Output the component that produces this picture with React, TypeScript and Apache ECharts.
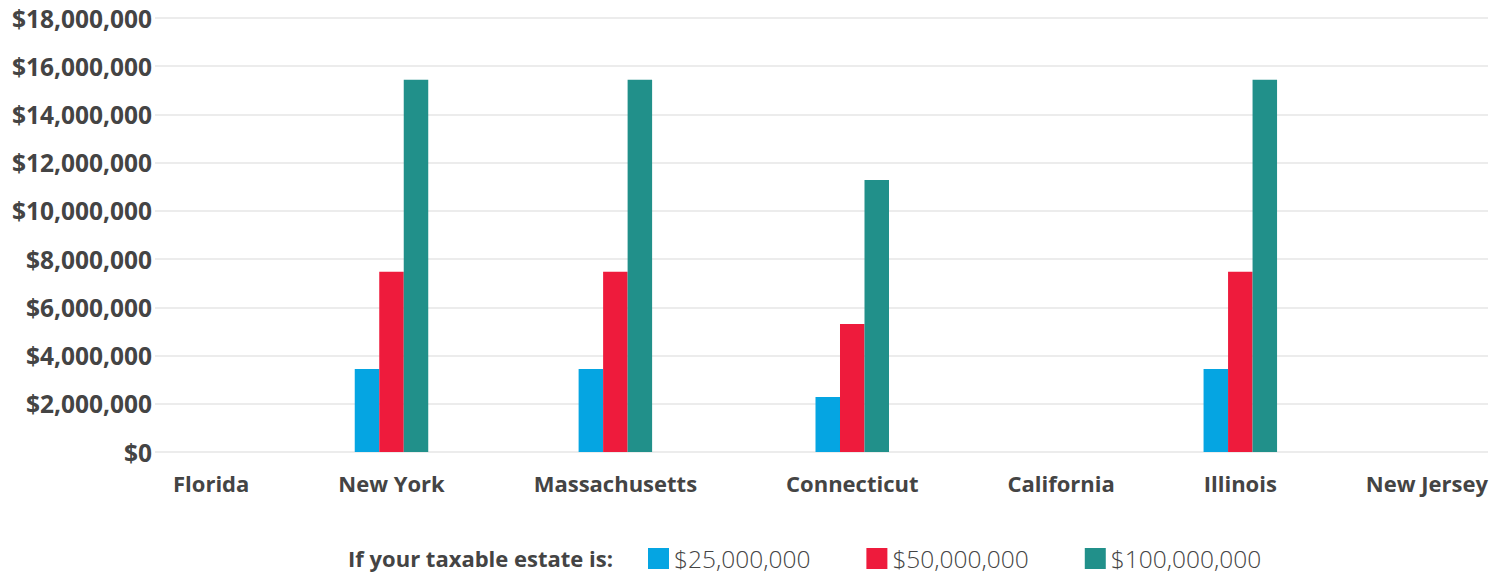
import React, { useEffect, useRef } from "react";
import * as echarts from "echarts";

const states = ["Florida", "New York", "Massachusetts", "Connecticut", "California", "Illinois", "New Jersey"];
const seriesNames = ["$25,000,000", "$50,000,000", "$100,000,000"];
const tax25M = [0, 3440000, 3440000, 2280000, 0, 3440000, 0];
const tax50M = [0, 7480000, 7480000, 5310000, 0, 7480000, 0];
const tax100M = [0, 15440000, 15440000, 11280000, 0, 15440000, 0];
const colors = ["#05A5E2", "#EE1B3C", "#21908A"];
const yTicks = { min: 0, max: 18000000, interval: 2000000 };

const FONT = "'Open Sans', 'Noto Sans', sans-serif";
const W = 1505;
const H = 575;
const GRID_LEFT = 155;
const GRID_RIGHT = 17;
const LEAD = 18;

export default function App() {
  const ref = useRef<HTMLDivElement>(null);
  useEffect(() => {
    document.body.style.margin = "0";
    if (!ref.current) return;
    const chart = echarts.init(ref.current, null, { renderer: "svg" });
    const plotW = W - GRID_LEFT - GRID_RIGHT;
    const cv = document.createElement("canvas");
    const ctx = cv.getContext("2d")!;
    ctx.font = `bold 22px ${FONT}`;
    const widths = states.map((s) => ctx.measureText(s).width);
    const total = widths.reduce((a, b) => a + b, 0);
    const gap = (plotW - LEAD - total) / (states.length - 1);
    const centers: number[] = [];
    let x = LEAD;
    widths.forEach((w) => {
      centers.push(x + w / 2);
      x += w + gap;
    });
    const nameAt = (v: number) => {
      let best = 0;
      centers.forEach((c, i) => {
        if (Math.abs(c - v) < Math.abs(centers[best] - v)) best = i;
      });
      return states[best];
    };
    const vals = [tax25M, tax50M, tax100M];
    chart.setOption({
      animation: false,
      grid: { left: GRID_LEFT, right: GRID_RIGHT, top: 18, bottom: H - 452, containLabel: false },
      xAxis: {
        type: "value",
        min: 0,
        max: plotW,
        axisLine: { show: false },
        axisTick: { show: false },
        splitLine: { show: false },
        axisLabel: {
          customValues: centers,
          formatter: (v: number) => nameAt(v),
          fontFamily: FONT,
          fontWeight: "bold",
          fontSize: 22,
          color: "#444",
          margin: 20,
        },
      },
      yAxis: {
        type: "value",
        min: yTicks.min,
        max: yTicks.max,
        interval: yTicks.interval,
        axisLine: { show: false },
        axisTick: { show: false },
        splitLine: { lineStyle: { color: "#e6e6e6", width: 1.5 } },
        axisLabel: {
          formatter: (v: number) => "$" + v.toLocaleString("en-US"),
          fontFamily: FONT,
          fontWeight: "bold",
          fontSize: 24.5,
          color: "#444",
          margin: 3,
        },
      },
      legend: {
        left: 648,
        top: 546,
        padding: 0,
        itemWidth: 21,
        itemHeight: 21,
        itemGap: 56,
        icon: "rect",
        data: seriesNames,
        textStyle: { fontFamily: FONT, fontSize: 24.5, color: "#444", fontWeight: 300 },
      },
      graphic: [
        {
          type: "text",
          right: W - 613,
          top: 547,
          style: {
            text: "If your taxable estate is:",
            font: `bold 22px ${FONT}`,
            fill: "#444",
          },
        },
      ],
      series: seriesNames.map((n, si) => ({
        name: n,
        type: "bar",
        barWidth: 24.5,
        barGap: "0%",
        itemStyle: { color: colors[si] },
        data: vals[si].map((v, i) => [centers[i], v]),
      })),
    });
    return () => chart.dispose();
  }, []);
  return <div ref={ref} style={{ width: W, height: H }} />;
}
